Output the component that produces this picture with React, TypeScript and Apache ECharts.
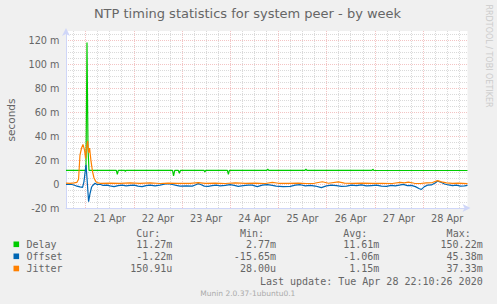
import React, { useEffect, useRef } from 'react';
import * as echarts from 'echarts';

// x values: hours since 21 Apr 2020 00:00; y values: milliseconds
const X_MIN = -9.75;
const X_MAX = 190.15;
const Y_MIN = -20;
const Y_MAX = 127.5;

const dayLabels = ['21 Apr', '22 Apr', '23 Apr', '24 Apr', '25 Apr', '26 Apr', '27 Apr', '28 Apr'];
const dayLabelHours = [12, 36, 60, 84, 108, 132, 156, 180];
const midnightHours = [0, 24, 48, 72, 96, 120, 144, 168];
const sixHourTicks = [-6, 6, 12, 18, 30, 36, 42, 54, 60, 66, 78, 84, 90, 102, 108, 114, 126, 132, 138, 150, 156, 162, 174, 180, 186];
const yMajorTicks = [-20, 0, 20, 40, 60, 80, 100, 120];
const yMinorTicks = [-15, -10, -5, 5, 10, 15, 25, 30, 35, 45, 50, 55, 65, 70, 75, 85, 90, 95, 105, 110, 115, 125];

const delay: [number, number][] = [
  [-9.75, 11.4], [0.2, 11.4], [0.7, 118], [1.2, 30], [1.7, 11.3], [15.3, 11.3], [15.8, 8.0], [16.3, 11.3],
  [19.5, 11.3], [19.8, 10.6], [20.1, 11.3], [43.3, 11.3], [43.8, 6.7], [44.4, 11.3], [46.2, 11.3], [46.7, 9.0],
  [47.2, 11.3], [59.0, 11.3], [59.4, 10.0], [59.8, 11.3], [70.6, 11.3], [71.1, 8.1], [71.6, 11.3], [90.2, 11.3],
  [90.7, 12.4], [91.2, 11.3], [109.2, 11.3], [109.7, 12.4], [110.2, 11.3], [142.6, 11.3], [143.0, 12.3],
  [143.5, 11.3], [190.15, 11.27],
];

const offset: [number, number][] = [
  [-9.75, -0.3], [-7.75, -0.2], [-6.3, -0.6], [-4.8, -1.5], [-2.8, -2.4], [-1.5, -2.8], [-0.8, 2], [0.2, 16],
  [0.7, 5], [1.5, -14.7], [2.2, -8], [3.0, -2.5], [3.7, -1.0], [4.7, 0.6], [5.7, -0.5], [7.2, -0.2], [8.7, -1.2],
  [10.7, -1.0], [12.2, -1.6], [14.2, -2.2], [16.2, -1.4], [18.2, -1.0], [20.2, -1.6], [22.2, -1.2], [24.2, -1.0],
  [26.1, -1.8], [28.1, -2.2], [30.1, -1.4], [32.1, -1.0], [34.6, -1.5], [37.1, -1.0], [39.1, -0.2], [41.1, 0.2],
  [43.1, -0.4], [45.1, -1.2], [47.1, -1.7], [50.1, -1.6], [53.1, -1.8], [54.6, -0.8], [56.1, 0.3], [57.6, -0.6],
  [59.1, -1.8], [61.0, -2.0], [63.0, -1.4], [65.0, -1.0], [67.0, -1.6], [69.5, -1.2], [72.0, -0.5], [74.0, -1.2],
  [76.0, -2.0], [78.5, -1.4], [81.0, -0.9], [83.0, -1.0], [85.5, -2.2], [88.0, -1.0], [90.5, -0.5], [93.0, -1.2],
  [94.9, -1.8], [98.4, -2.2], [101.9, -2.0], [104.4, -1.0], [106.9, -0.6], [109.4, -1.5], [111.9, -1.2],
  [114.4, -1.7], [117.4, -3.0], [119.9, -1.6], [122.4, -0.9], [124.9, -1.3], [127.4, -2.0], [129.9, -1.8],
  [132.4, -1.0], [134.9, -1.4], [137.3, -0.8], [139.8, -1.6], [142.3, -1.3], [144.8, -1.0], [147.3, -1.8],
  [149.8, -2.0], [152.2, -1.2], [154.2, -1.6], [156.2, -1.0], [158.2, -0.3], [160.2, -1.4], [162.2, -1.2],
  [164.2, -2.2], [166.2, -4.0], [167.2, -4.5], [168.7, -2.2], [170.2, -1.0], [172.2, -0.8], [174.2, 1.0],
  [175.2, 2.5], [176.7, 1.6], [178.7, 0.0], [180.7, -0.8], [182.7, -1.3], [184.6, -1.0], [186.6, -1.8],
  [188.6, -1.6], [190.15, -1.22],
];

const jitter: [number, number][] = [
  [-9.75, 0.8], [-7.75, 0.6], [-5.7, 1.0], [-4.3, 1.4], [-3.5, 4], [-2.8, 24], [-2.0, 30], [-1.3, 33],
  [-0.5, 28], [0.0, 21], [0.5, 30], [1.0, 36], [1.5, 26], [2.0, 30], [2.7, 19], [3.5, 10], [4.2, 5], [5.0, 2.2],
  [5.7, 1.2], [7.2, 0.6], [12.2, 0.8], [17.2, 0.5], [22.2, 0.9], [27.1, 0.6], [32.1, 1.0], [37.1, 0.4],
  [41.1, 0.8], [46.1, 0.5], [52.1, 0.6], [56.1, 1.2], [59.6, 0.5], [64.5, 0.8], [69.5, 0.4], [74.5, 0.9],
  [79.5, 0.5], [84.5, 0.7], [89.5, 0.4], [93.0, 1.4], [96.0, 0.6], [100.9, 0.5], [105.9, 0.8], [109.9, 0.4],
  [113.9, 0.6], [117.9, 1.9], [120.9, 0.6], [125.9, 1.8], [128.9, 0.7], [132.9, 0.5], [137.8, 0.8],
  [142.8, 0.5], [147.8, 0.6], [152.7, 0.4], [156.7, 1.4], [158.7, 1.0], [160.7, 1.5], [163.7, 0.6],
  [166.7, 0.4], [169.7, 1.0], [172.7, 1.2], [175.2, 2.8], [177.2, 1.8], [179.7, 0.9], [182.7, 0.5],
  [185.6, 0.8], [190.15, 0.3],
];

const seriesNames = ['Delay', 'Offset', 'Jitter'];
const seriesColors = ['#00CC00', '#0066B3', '#FF8000'];
const seriesData = [delay, offset, jitter];
const columnHeaders = ['Cur:', 'Min:', 'Avg:', 'Max:'];
const curValues = ['11.27m', '-1.22m', '150.91u'];
const minValues = ['2.77m', '-15.65m', '28.00u'];
const avgValues = ['11.61m', '-1.06m', '1.15m'];
const maxValues = ['150.22m', '45.38m', '37.33m'];
const titleText = 'NTP timing statistics for system peer - by week';
const lastUpdate = 'Last update: Tue Apr 28 22:10:26 2020';
const versionText = 'Munin 2.0.37-1ubuntu0.1';
const watermark = 'RRDTOOL / TOBI OETIKER';

const FONT = '#666666';
const AXIS = '#CFD6F8';
const MONO = 'DejaVu Sans Mono';
const SANS = 'DejaVu Sans';
const MAJOR_GRID = '#f3c4c4';
const MINOR_GRID = '#dadada';

function txt(text: string, x: number, y: number, opts: any = {}) {
  const align = opts.align || 'left';
  return {
    type: 'text',
    x,
    y,
    rotation: opts.rotation || 0,
    silent: true,
    style: {
      text,
      x: 0,
      y: 0,
      fill: opts.fill || FONT,
      fontFamily: opts.family || MONO,
      fontSize: opts.size || 10,
      textAlign: align,
      align,
      textVerticalAlign: 'middle',
      verticalAlign: 'middle',
    },
  };
}

export default function App() {
  const ref = useRef<HTMLDivElement>(null);

  useEffect(() => {
    document.body.style.margin = '0';
    if (!ref.current) return;
    const chart = echarts.init(ref.current, undefined, { renderer: 'svg' });

    const colRight = [172.3, 276, 379.3, 482.7];
    const rowY = [244.3, 256.3, 268.5];
    const valueCols = [curValues, minValues, avgValues, maxValues];

    const graphics: any[] = [
      txt(titleText, 247.5, 13.8, { family: SANS, size: 13, align: 'center' }),
      txt('seconds', 11, 120, { family: SANS, size: 10.5, align: 'center', rotation: Math.PI / 2 }),
      txt(watermark, 488, 56, { family: SANS, size: 8, align: 'center', rotation: -Math.PI / 2, fill: '#cccccc' }),
      txt(lastUpdate, 482.7, 281, { align: 'right' }),
      txt(versionText, 247.8, 293, { family: SANS, size: 7.5, align: 'center', fill: '#aaaaaa' }),
    ];
    columnHeaders.forEach((h, i) => {
      graphics.push(txt(h, colRight[i] - 12, 233.3, { align: 'right' }));
    });
    seriesNames.forEach((name, r) => {
      graphics.push({
        type: 'rect',
        silent: true,
        shape: { x: 13.5, y: rowY[r] - 2.8, width: 5.6, height: 5.6 },
        style: { fill: seriesColors[r] },
      });
      graphics.push(txt(name, 26.5, rowY[r]));
      valueCols.forEach((col, c) => {
        graphics.push(txt(col[r], colRight[c], rowY[r], { align: 'right' }));
      });
    });

    const option: any = {
      animation: false,
      backgroundColor: '#F0F0F0',
      grid: {
        left: 66,
        top: 31,
        right: 29.5,
        bottom: 96,
        show: true,
        backgroundColor: '#FFFFFF',
        borderWidth: 0,
      },
      xAxis: [
        {
          type: 'value',
          min: X_MIN,
          max: X_MAX,
          position: 'bottom',
          axisLine: { show: false, onZero: false },
          axisLabel: { show: false },
          axisTick: { show: false, customValues: sixHourTicks },
          splitLine: { show: true, lineStyle: { color: MINOR_GRID, type: [1, 1], width: 1 } },
        },
        {
          type: 'value',
          min: X_MIN,
          max: X_MAX,
          position: 'bottom',
          axisLine: {
            show: true,
            onZero: false,
            lineStyle: { color: AXIS, width: 1 },
            symbol: ['none', 'arrow'],
            symbolSize: [6, 8],
            symbolOffset: [0, 3],
          },
          axisTick: { show: false, customValues: midnightHours },
          axisLabel: {
            show: true,
            customValues: dayLabelHours,
            formatter: (v: number) => dayLabels[dayLabelHours.indexOf(v)] ?? '',
            color: FONT,
            fontFamily: SANS,
            fontSize: 9.7,
            margin: 5,
          },
          splitLine: { show: true, lineStyle: { color: MAJOR_GRID, type: [1, 1], width: 1 } },
        },
      ],
      yAxis: [
        {
          type: 'value',
          min: Y_MIN,
          max: Y_MAX,
          position: 'left',
          axisLine: { show: false, onZero: false },
          axisLabel: { show: false },
          axisTick: { show: false, customValues: yMinorTicks },
          splitLine: { show: true, lineStyle: { color: MINOR_GRID, type: [1, 1], width: 1 } },
        },
        {
          type: 'value',
          min: Y_MIN,
          max: Y_MAX,
          position: 'left',
          axisLine: {
            show: true,
            onZero: false,
            lineStyle: { color: AXIS, width: 1 },
            symbol: ['none', 'arrow'],
            symbolSize: [6, 8],
            symbolOffset: [0, 3],
          },
          axisTick: { show: false, customValues: yMajorTicks },
          axisLabel: {
            show: true,
            customValues: yMajorTicks,
            formatter: (v: number) => (v === 0 ? '0' : `${v} m`),
            color: FONT,
            fontFamily: SANS,
            fontSize: 9.7,
            margin: 6.5,
          },
          splitLine: { show: true, lineStyle: { color: MAJOR_GRID, type: [1, 1], width: 1 } },
        },
      ],
      series: seriesNames.map((name, i) => ({
        name,
        type: 'line',
        xAxisIndex: 1,
        yAxisIndex: 1,
        data: seriesData[i],
        showSymbol: false,
        symbol: 'none',
        lineStyle: { color: seriesColors[i], width: 1.2 },
        itemStyle: { color: seriesColors[i] },
        z: 2 + i,
      })),
      graphic: graphics,
    };

    chart.setOption(option);
    return () => chart.dispose();
  }, []);

  return (
    <div
      ref={ref}
      style={{ position: 'absolute', left: 0, top: 0, width: 497, height: 304 }}
    />
  );
}
